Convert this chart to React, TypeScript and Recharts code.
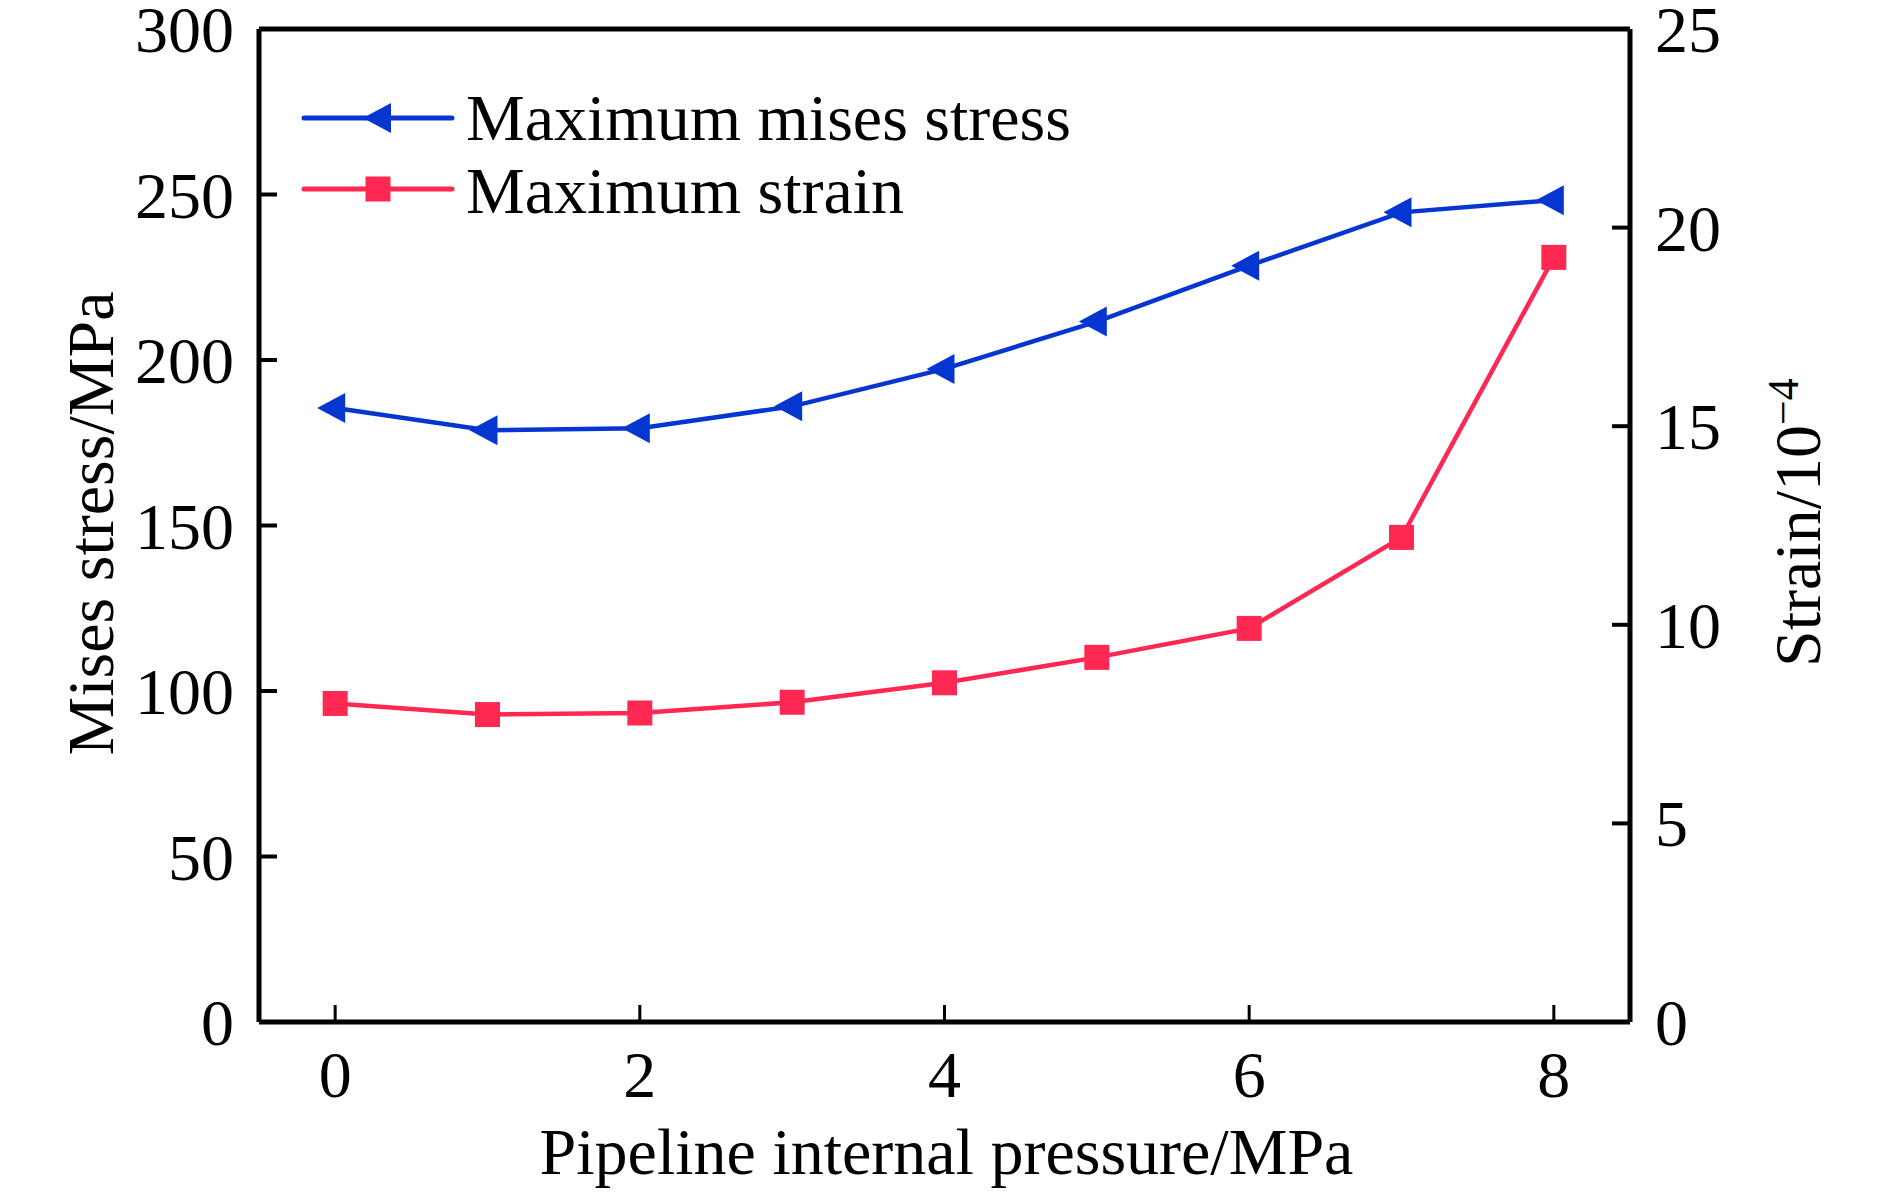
import React from 'react';
import { LineChart, Line, XAxis, YAxis, Legend, ReferenceLine, Label } from 'recharts';

const pressure = [0, 1, 2, 3, 4, 5, 6, 7, 8];
const misesStress = [185.5, 178.8, 179.4, 186, 197.3, 211.6, 228.5, 244.6, 248.3];
const strain = [8.02, 7.74, 7.78, 8.05, 8.54, 9.18, 9.91, 12.2, 19.25];
const xTicks = [0, 2, 4, 6, 8];
const leftTicks = [0, 50, 100, 150, 200, 250, 300];
const rightTicks = [0, 5, 10, 15, 20, 25];

const data = pressure.map((p, i) => ({ p, stress: misesStress[i], strain: strain[i] }));

const FONT = '"Liberation Serif", "Times New Roman", Times, serif';
const BLUE = '#0636D0';
const RED = '#FE2853';
const FS = 66;
const AX = 5;

const LeftTick = (props: any) => {
  const { x, y, payload } = props;
  return (
    <g>
      <line x1={x} y1={y} x2={x + 18} y2={y} stroke="#000" strokeWidth={4} />
      <text x={x - 25} y={y} dy={23} textAnchor="end" fontFamily={FONT} fontSize={FS} fill="#000">
        {payload.value}
      </text>
    </g>
  );
};

const RightTick = (props: any) => {
  const { x, y, payload } = props;
  return (
    <g>
      <line x1={x} y1={y} x2={x - 18} y2={y} stroke="#000" strokeWidth={4} />
      <text x={x + 25} y={y} dy={23} textAnchor="start" fontFamily={FONT} fontSize={FS} fill="#000">
        {payload.value}
      </text>
    </g>
  );
};

const BottomTick = (props: any) => {
  const { x, y, payload } = props;
  return (
    <g>
      <line x1={x} y1={y} x2={x} y2={y - 17} stroke="#000" strokeWidth={3} />
      <text x={x} y={y + 75} textAnchor="middle" fontFamily={FONT} fontSize={FS} fill="#000">
        {payload.value}
      </text>
    </g>
  );
};

const triPath = (cx: number, cy: number) =>
  `M${cx - 18},${cy} L${cx + 10},${cy - 15} L${cx + 10},${cy + 15} Z`;

const TriDot = (props: any) => {
  const { cx, cy, index } = props;
  if (cx == null || cy == null) return <g key={`t-${index}`} />;
  return <path key={`t-${index}`} d={triPath(cx, cy)} fill={BLUE} />;
};

const SqDot = (props: any) => {
  const { cx, cy, index } = props;
  if (cx == null || cy == null) return <g key={`s-${index}`} />;
  return <rect key={`s-${index}`} x={cx - 12.5} y={cy - 12.5} width={25} height={25} fill={RED} />;
};

const renderLegend = (props: any) => {
  const items = props.payload || [];
  const ordered = [...items].sort((a: any, b: any) =>
    (a.dataKey === 'stress' ? 0 : 1) - (b.dataKey === 'stress' ? 0 : 1)
  );
  return (
    <svg width={900} height={240} style={{ display: 'block', overflow: 'visible' }}>
      {ordered.map((it: any, i: number) => {
        const ly = i === 0 ? 118 : 189;
        const ty = i === 0 ? 140 : 213;
        const isTri = it.dataKey === 'stress';
        return (
          <g key={`lg-${i}`}>
            <line x1={304} y1={ly} x2={452} y2={ly} stroke={it.color} strokeWidth={5} strokeLinecap="round" />
            {isTri ? (
              <path d={triPath(381, ly)} fill={it.color} />
            ) : (
              <rect x={365.5} y={ly - 12.5} width={25} height={25} fill={it.color} />
            )}
            <text x={466} y={ty} fontFamily={FONT} fontSize={FS} fill="#000">
              {it.value}
            </text>
          </g>
        );
      })}
    </svg>
  );
};

const LeftLabel = (props: any) => {
  const vb = props.viewBox || { x: 0, y: 29, width: 259, height: 993 };
  const x = vb.x + 113;
  const y = vb.y + vb.height / 2 - 2;
  return (
    <text x={x} y={y} transform={`rotate(-90 ${x} ${y})`} textAnchor="middle" fontFamily={FONT} fontSize={FS} fill="#000">
      Mises stress/MPa
    </text>
  );
};

const RightLabel = (props: any) => {
  const vb = props.viewBox || { x: 1630, y: 29, width: 260, height: 993 };
  const x = vb.x + 190;
  const y = 667;
  return (
    <text x={x} y={y} transform={`rotate(-90 ${x} ${y})`} textAnchor="start" fontFamily={FONT} fontSize={FS} fill="#000">
      Strain/10
      <tspan dy={-22} fontSize={44}>
        −4
      </tspan>
    </text>
  );
};

const BottomLabel = (props: any) => {
  const vb = props.viewBox || { x: 259, y: 1022, width: 1371, height: 173 };
  const x = vb.x + vb.width / 2 + 2;
  const y = vb.y + 152;
  return (
    <text x={x} y={y} textAnchor="middle" fontFamily={FONT} fontSize={FS} fill="#000">
      Pipeline internal pressure/MPa
    </text>
  );
};

export default function App() {
  return (
    <div style={{ position: 'absolute', left: 0, top: 0, width: 1890, height: 1195, background: '#fff' }}>
      <LineChart width={1890} height={1195} data={data} margin={{ top: 29, right: 0, bottom: 0, left: 0 }}>
        <XAxis
          dataKey="p"
          type="number"
          domain={[-0.5, 8.5]}
          ticks={xTicks}
          interval={0}
          allowDataOverflow
          height={173}
          axisLine={{ stroke: '#000', strokeWidth: AX }}
          tickLine={false}
          tickSize={0}
          tickMargin={0}
          tick={<BottomTick />}
        >
          <Label content={<BottomLabel />} />
        </XAxis>
        <YAxis
          yAxisId="left"
          width={259}
          domain={[0, 300]}
          ticks={leftTicks}
          interval={0}
          allowDataOverflow
          axisLine={{ stroke: '#000', strokeWidth: AX }}
          tickLine={false}
          tickSize={0}
          tickMargin={0}
          tick={<LeftTick />}
        >
          <Label content={<LeftLabel />} />
        </YAxis>
        <YAxis
          yAxisId="right"
          orientation="right"
          width={260}
          domain={[0, 25]}
          ticks={rightTicks}
          interval={0}
          allowDataOverflow
          axisLine={{ stroke: '#000', strokeWidth: AX }}
          tickLine={false}
          tickSize={0}
          tickMargin={0}
          tick={<RightTick />}
        >
          <Label content={<RightLabel />} />
        </YAxis>
        <ReferenceLine yAxisId="left" y={300} stroke="#000" strokeWidth={AX} />
        <Line
          yAxisId="left"
          type="linear"
          dataKey="stress"
          name="Maximum mises stress"
          stroke={BLUE}
          strokeWidth={4.5}
          dot={TriDot}
          activeDot={false}
          isAnimationActive={false}
        />
        <Line
          yAxisId="right"
          type="linear"
          dataKey="strain"
          name="Maximum strain"
          stroke={RED}
          strokeWidth={4.5}
          dot={SqDot}
          activeDot={false}
          isAnimationActive={false}
        />
        <Legend
          layout="vertical"
          align="center"
          verticalAlign="middle"
          width={900}
          height={240}
          wrapperStyle={{ position: 'absolute', left: 0, top: 0, width: 900, height: 240 }}
          content={renderLegend}
        />
      </LineChart>
    </div>
  );
}
